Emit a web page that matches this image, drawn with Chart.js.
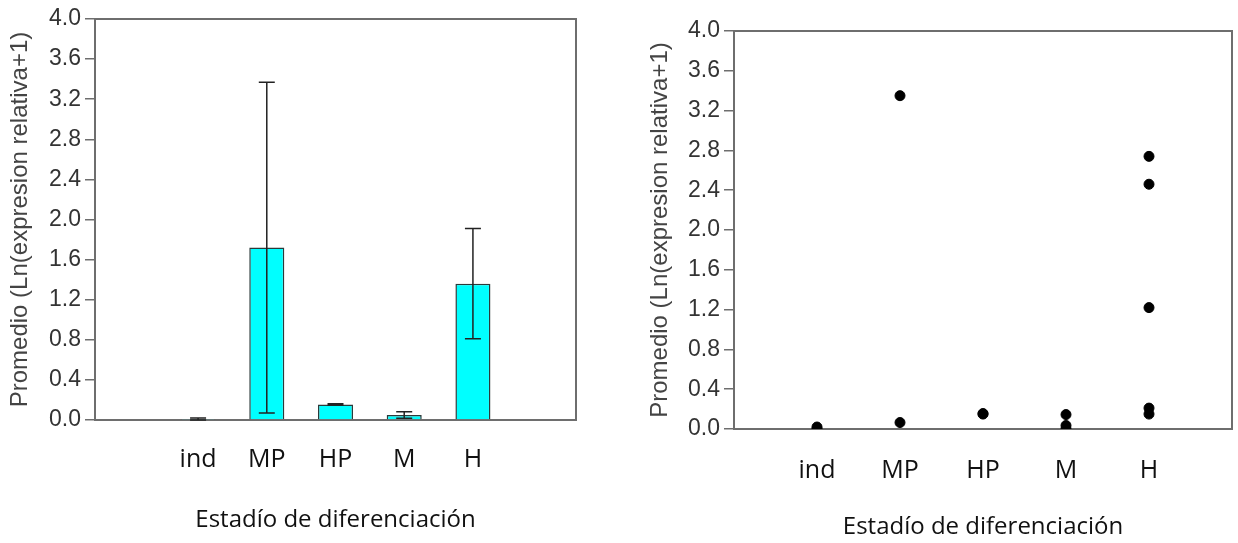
<!DOCTYPE html>
<html>
<head>
<meta charset="utf-8">
<script src="https://cdn.jsdelivr.net/npm/chart.js@4/dist/chart.umd.min.js"></script>
<style>
  html, body { margin: 0; padding: 0; background: #fff; overflow: hidden; }
  #wrap { position: relative; width: 1238px; height: 543px; }
  canvas { position: absolute; top: 0; display: block; }
  #bar-chart { left: 0; }
  #dot-chart { left: 620px; }
</style>
</head>
<body>
<div id="wrap">
  <canvas id="bar-chart" width="600" height="543"></canvas>
  <canvas id="dot-chart" width="618" height="543"></canvas>
</div>
<script>
// categorias (estadios)
const stages = ['ind', 'MP', 'HP', 'M', 'H'];
const stagePos = [1, 2, 3, 4, 5];

// promedios y error
const means = [0.01, 1.72, 0.155, 0.05, 1.36];
const errors = [0.01, 1.65, 0.006, 0.033, 0.55];

// valores individuales
const indVals = [0.0, 0.02];
const mpVals = [3.35, 0.065];
const hpVals = [0.15, 0.155];
const mVals = [0.145, 0.035, 0.0];
const hVals = [2.74, 2.46, 1.22, 0.21, 0.15];

const yTicks = [0, 0.4, 0.8, 1.2, 1.6, 2.0, 2.4, 2.8, 3.2, 3.6, 4.0];

const axisGray = '#6e6e6e';
const textGray = '#333';
const yTitle = 'Promedio (Ln(expresion relativa+1)';
const xTitle = 'Estadío de diferenciación';

// caja alrededor del area
const frame = {
    id: 'frame',
    afterDraw(chart) {
        const { ctx, chartArea: a } = chart;
        ctx.save();
        ctx.strokeStyle = axisGray;
        ctx.lineWidth = 2;
        ctx.beginPath();
        ctx.moveTo(a.left, a.top);
        ctx.lineTo(a.right, a.top);
        ctx.lineTo(a.right, a.bottom);
        ctx.stroke();
        ctx.restore();
    }
};

// barras de error
const errorBars = {
    id: 'errorBars',
    afterDatasetsDraw(chart) {
        const { ctx, scales: { x, y } } = chart;
        ctx.save();
        ctx.strokeStyle = '#222';
        ctx.lineWidth = 1.5;
        means.forEach((m, i) => {
            const px = x.getPixelForValue(stagePos[i]);
            const top = y.getPixelForValue(m + errors[i]);
            const bot = y.getPixelForValue(Math.max(0, m - errors[i]));
            ctx.beginPath();
            ctx.moveTo(px, top); ctx.lineTo(px, bot);
            ctx.moveTo(px - 8, top); ctx.lineTo(px + 8, top);
            ctx.moveTo(px - 8, bot); ctx.lineTo(px + 8, bot);
            ctx.stroke();
        });
        ctx.restore();
    }
};

function scalesFor(yWidth, xHeight, titlePad, labelPad, xTitleBottom) {
    return {
        x: {
            type: 'linear', min: 0, max: 6,
            afterFit: (s) => { s.height = xHeight; s.paddingLeft = 0; s.paddingRight = 0; },
            afterBuildTicks: (s) => { s.ticks = [0, 1, 2, 3, 4, 5, 6].map(v => ({ value: v })); },
            grid: { display: false, drawTicks: false },
            border: { display: true, color: axisGray, width: 2 },
            ticks: {
                padding: labelPad,
                color: '#111',
                font: { family: 'Open Sans', size: 25 },
                callback: (v) => { const i = stagePos.indexOf(v); return i >= 0 ? stages[i] : ''; }
            },
            title: {
                display: true, text: xTitle, color: '#111',
                font: { family: 'Open Sans', size: 24 },
                padding: { top: 0, bottom: xTitleBottom }
            }
        },
        y: {
            min: 0, max: 4,
            afterFit: (s) => { s.width = yWidth; },
            afterBuildTicks: (s) => { s.ticks = yTicks.map(v => ({ value: v })); },
            grid: { drawOnChartArea: false, drawTicks: true, tickLength: 10, color: axisGray, lineWidth: 1.5 },
            border: { display: true, color: axisGray, width: 2 },
            ticks: {
                padding: 4,
                color: textGray,
                font: { family: 'Liberation Sans', size: 23 },
                callback: (v) => Number(v).toFixed(1)
            },
            title: {
                display: true, text: yTitle, color: '#444',
                font: { family: 'Liberation Sans', size: 24 },
                padding: { top: titlePad, bottom: 0 }
            }
        }
    };
}

new Chart(document.getElementById('bar-chart'), {
    type: 'bar',
    data: {
        datasets: [{
            data: stagePos.map((p, i) => ({ x: p, y: means[i] })),
            backgroundColor: '#00ffff',
            borderColor: '#2b3a3a',
            borderWidth: 1.5,
            categoryPercentage: 1,
            barPercentage: 0.51
        }]
    },
    options: {
        responsive: false,
        animation: false,
        layout: { padding: { top: 19, right: 24, bottom: 0, left: 0 } },
        plugins: { legend: { display: false }, tooltip: { enabled: false } },
        scales: scalesFor(95, 123, 6, 25, 8)
    },
    plugins: [frame, errorBars]
});

const dots = [];
[indVals, mpVals, hpVals, mVals, hVals].forEach((vals, i) => {
    vals.forEach(v => dots.push({ x: stagePos[i], y: v }));
});

new Chart(document.getElementById('dot-chart'), {
    type: 'scatter',
    data: {
        datasets: [{
            data: dots,
            backgroundColor: '#000',
            borderColor: '#000',
            pointRadius: 5,
            pointHoverRadius: 5
        }]
    },
    options: {
        responsive: false,
        animation: false,
        layout: { padding: { top: 31, right: 0, bottom: 0, left: 0 } },
        plugins: { legend: { display: false }, tooltip: { enabled: false } },
        scales: scalesFor(114, 114, 26, 27, 1)
    },
    plugins: [frame]
});
</script>
</body>
</html>
